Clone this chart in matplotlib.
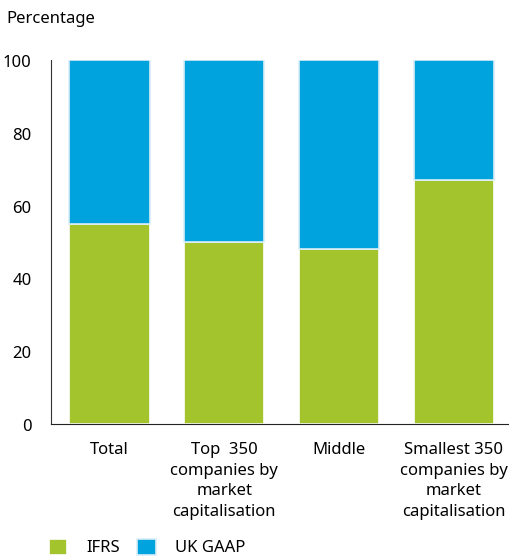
import numpy as np
import matplotlib.pyplot as plt
from matplotlib.transforms import ScaledTranslation

plt.rcParams['font.family'] = ['Noto Sans', 'DejaVu Sans']

# Share of companies by accounting framework
categories = ["Total", "Top  350\ncompanies by\nmarket\ncapitalisation",
              "Middle", "Smallest 350\ncompanies by\nmarket\ncapitalisation"]
ifrs = np.array([55, 50, 48, 67])
uk_gaap = np.array([45, 50, 52, 33])
yticks = [0, 20, 40, 60, 80, 100]

GREEN = "#A4C42E"
BLUE = "#00A3DD"
FS = 12

fig = plt.figure(figsize=(5.1, 5.57), dpi=100)
ax = fig.add_axes([51 / 510, 133 / 557, 459 / 510, 364 / 557])

x = np.arange(len(categories))
w = 0.70
ax.bar(x, ifrs, w, color=GREEN, edgecolor="white", linewidth=1.2, label="IFRS")
ax.bar(x, uk_gaap, w, bottom=ifrs, color=BLUE, edgecolor="#d8eef7", linewidth=1.2,
       label="UK GAAP")

ax.set_xlim(-0.51, 3.49)
ax.set_ylim(0, 100)
ax.set_yticks(yticks)
ax.set_yticklabels([str(v) for v in yticks], fontsize=FS)
ax.set_xticks(x)
ax.set_xticklabels(categories, fontsize=FS, linespacing=1.38, va="top")
ax.tick_params(axis="y", length=0, pad=14)
ax.tick_params(axis="x", length=0, pad=13)

# nudge the y labels a little below their gridline
shift = ScaledTranslation(0, -3 / 100, fig.dpi_scale_trans)
for lab in ax.get_yticklabels():
    lab.set_verticalalignment("center")
    lab.set_transform(lab.get_transform() + shift)

for s in ["top", "right"]:
    ax.spines[s].set_visible(False)
ax.spines["left"].set_color("#333333")
ax.spines["bottom"].set_color("#222222")

fig.text(6 / 510, 1 - 19 / 557, "Percentage", fontsize=FS, va="center", ha="left")

handles, labels = ax.get_legend_handles_labels()
fig.legend(handles, labels, loc="upper left", bbox_to_anchor=(37 / 510, 30 / 557),
           ncol=2, frameon=False, fontsize=FS, handlelength=1.1, handleheight=1.1,
           handletextpad=1.15, columnspacing=1.05, borderpad=0.2)

fig.savefig("out.png", dpi=100)
